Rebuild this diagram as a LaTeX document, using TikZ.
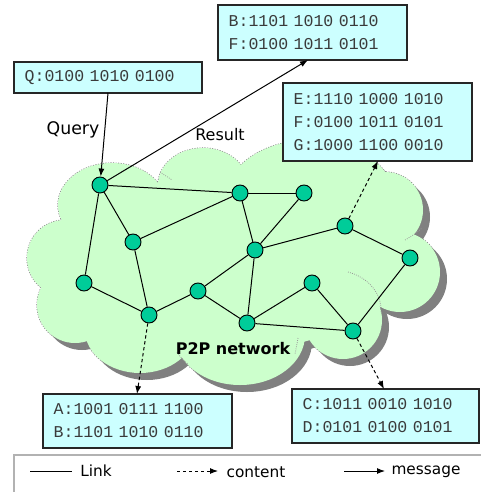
\documentclass[tikz,border=0pt]{standalone}
\usepackage{fontspec}
\setmainfont{DejaVu Sans}
\newfontfamily\monof{Liberation Mono}
\usetikzlibrary{arrows.meta}
\definecolor{cloudg}{HTML}{CCFFCC}
\definecolor{shadowc}{HTML}{808080}
\definecolor{nodec}{HTML}{00CC99}
\definecolor{boxc}{HTML}{CCFFFF}
\definecolor{txtc}{HTML}{3A3A3A}
\newcommand\cloudpath[1]{\path[#1]
  (112,205) ellipse[x radius=54,y radius=42]
  (203,185) ellipse[x radius=45,y radius=37]
  (310,200) ellipse[x radius=85,y radius=60]
  (385,210) circle[radius=38]
  (400,272) circle[radius=40]
  (343,320) circle[radius=39]
  (240,335) ellipse[x radius=65,y radius=50]
  (140,330) ellipse[x radius=55,y radius=43]
  (75,305) circle[radius=38]
  (65,258) circle[radius=38]
  (235,265) ellipse[x radius=160,y radius=85];}
\begin{document}
\begin{tikzpicture}[x=0.75pt,y=-0.75pt,
  peer/.style={circle,fill=nodec,draw=black,line width=0.7pt,minimum size=12pt,inner sep=0pt},
  link/.style={draw=black,line width=0.75pt},
  msg/.style={draw=black,line width=0.75pt,-{Latex[length=6pt,width=4.5pt]}},
  cont/.style={draw=black,line width=0.75pt,dash pattern=on 2.5pt off 2pt,-{Latex[length=6pt,width=4.5pt]}},
  codebox/.style={draw=black!85,fill=boxc,line width=0.8pt,text=txtc,align=left,
    font=\monof\fontsize{12.4}{17.25}\selectfont,inner xsep=8pt,inner ysep=0pt,anchor=center},
  lab/.style={font=\fontsize{11.5}{13}\selectfont,text=black,inner sep=0pt},
  inarc/.style={draw=gray!80,densely dotted,line width=0.6pt}]
\useasboundingbox (0,0) rectangle (480,492);
% cloud
\cloudpath{fill=shadowc,shift={(7,7)}}
\cloudpath{draw=gray,densely dotted,line width=0.9pt}
\cloudpath{fill=cloudg}
\draw[inarc] (348,272) .. controls (370,278) and (382,295) .. (381,312);
\draw[inarc] (405,240) .. controls (412,236) and (418,232) .. (422,228);
\draw[inarc] (177,352) .. controls (180,357) and (184,361) .. (188,364);
\draw[inarc] (298,338) .. controls (297,344) and (296,349) .. (295,354);
\draw[inarc] (160,172) .. controls (164,175) and (168,177) .. (172,180);
% peers
\node[peer] (n1) at (100,185) {};
\node[peer] (n2) at (240,193) {};
\node[peer] (n3) at (304,193) {};
\node[peer] (n4) at (133,242) {};
\node[peer] (n5) at (255,250) {};
\node[peer] (n6) at (345,226) {};
\node[peer] (n7) at (410,258) {};
\node[peer] (n8) at (84,283) {};
\node[peer] (n9) at (198,291) {};
\node[peer] (n10) at (149,315) {};
\node[peer] (n11) at (312,283) {};
\node[peer] (n12) at (247,323) {};
\node[peer] (n13) at (353,331) {};
\foreach \a/\b in {n1/n2,n1/n4,n1/n8,n2/n3,n2/n4,n2/n5,n3/n5,n4/n10,n8/n10,n10/n9,n9/n5,n9/n12,n5/n6,n5/n12,n6/n7,n7/n13,n12/n11,n11/n13,n12/n13}
  \draw[link] (\a) -- (\b);
\node[font=\bfseries\fontsize{12}{14}\selectfont,inner sep=0pt] (p2p) at (233,349) {P2P network};
% boxes
\node[codebox,minimum width=141pt,minimum height=23.25pt,text width=125pt] (q) at (108,77.5) {Q:0100 1010 0100};
\node[codebox,minimum width=141.75pt,minimum height=41.25pt,text width=125.75pt] (bf) at (312.5,32.5) {B:1101 1010 0110\\F:0100 1011 0101};
\node[codebox,minimum width=141.75pt,minimum height=58.5pt,text width=125.75pt] (efg) at (377.5,122) {E:1110 1000 1010\\F:0100 1011 0101\\G:1000 1100 0010};
\node[codebox,minimum width=141.75pt,minimum height=40.5pt,text width=125.75pt] (ab) at (137.5,421) {A:1001 0111 1100\\B:1101 1010 0110};
\node[codebox,minimum width=140.25pt,minimum height=40.5pt,text width=124.25pt] (cd) at (385.5,416) {C:1011 0010 1010\\D:0101 0100 0101};
% labels
\node[font=\fontsize{13}{15}\selectfont,inner sep=0pt] (query) at (73,130) {Query};
\node[font=\fontsize{12}{14}\selectfont,inner sep=0pt] (result) at (220,135) {Result};
% message and content arrows
\coordinate (qout) at (108,93);
\coordinate (bfin) at (308,60);
\coordinate (efgin) at (378,161);
\coordinate (abin) at (137,394);
\coordinate (cdin) at (384,389);
\draw[msg] (qout) -- (n1);
\draw[msg] (n1) -- (bfin);
\draw[cont] (n6) -- (efgin);
\draw[cont] (n10) -- (abin);
\draw[cont] (n13) -- (cdin);
% legend
\draw[draw=gray!60,line width=0.8pt] (14,496) -- (14,455) -- (484,455);
\coordinate (l1a) at (30,471); \coordinate (l1b) at (72,471);
\coordinate (l2a) at (177,471); \coordinate (l2b) at (218,471);
\coordinate (l3a) at (344,471); \coordinate (l3b) at (385,471);
\draw[link] (l1a) -- (l1b);
\draw[cont] (l2a) -- (l2b);
\draw[msg] (l3a) -- (l3b);
\node[lab] (tlink) at (96,471) {Link};
\node[lab] (tcont) at (256,472) {content};
\node[lab] (tmsg) at (426,472) {message};
\end{tikzpicture}
\end{document}
